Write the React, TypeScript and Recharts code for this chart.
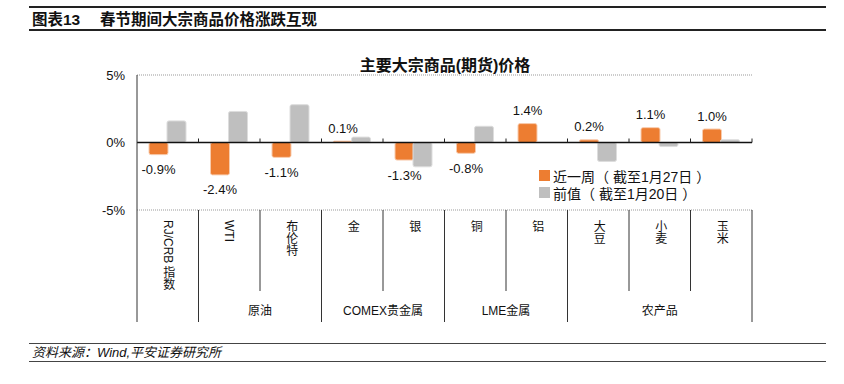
import React from 'react';
import { BarChart, Bar, XAxis, YAxis, CartesianGrid, ReferenceLine, LabelList, Legend } from 'recharts';

const categories = ['RJ/CRB 指数', 'WTI', '布伦特', '金', '银', '铜', '铝', '大豆', '小麦', '玉米'];
const groups = ['', '原油', '原油', 'COMEX贵金属', 'COMEX贵金属', 'LME金属', 'LME金属', '农产品', '农产品', '农产品'];
const lastWeek = [-0.9, -2.4, -1.1, 0.1, -1.3, -0.8, 1.4, 0.2, 1.1, 1.0];
const prevWeek = [1.6, 2.3, 2.8, 0.4, -1.8, 1.2, 0.0, -1.4, -0.3, 0.2];
const yTicks = [-5, 0, 5];
const seriesNames = ['近一周（ 截至1月27日 ）', '前值（ 截至1月20日 ）'];
const seriesColors = ['#ED7D31', '#BFBFBF'];

const data = categories.map((name, i) => ({ name, group: groups[i], a: lastWeek[i], b: prevWeek[i] }));

const W = 844;
const H = 384;
const YW = 60;
const XH = 120;
const M = { top: 75, right: 92, bottom: 54, left: 77 };
const plotLeft = M.left + YW;
const plotRight = W - M.right;
const bw = (plotRight - plotLeft) / categories.length;
const FONT = '"Liberation Sans", Arial, "Noto Sans CJK SC", sans-serif';
const TEXT = '#111';

function CategoryTick(props: any) {
  const { x, y, payload } = props;
  const i = categories.indexOf(payload.value);
  const left = x - bw / 2;
  const right = x + bw / 2;
  const isStart = i === 0 || groups[i] !== groups[i - 1];
  const fullBottom = y + 112;
  const shortBottom = y + 81;
  let span = 0;
  if (isStart && groups[i]) {
    let j = i;
    while (j < groups.length && groups[j] === groups[i]) j++;
    span = j - i;
  }
  return (
    <g>
      <line x1={left} x2={left} y1={y} y2={isStart ? fullBottom : shortBottom} stroke="#333" strokeWidth={1} />
      {i === categories.length - 1 && (
        <line x1={right} x2={right} y1={y} y2={fullBottom} stroke="#333" strokeWidth={1} />
      )}
      <text
        x={x}
        y={y + 10}
        style={{ writingMode: 'vertical-rl' as any }}
        fontSize={12}
        fill={TEXT}
        fontFamily={FONT}
      >
        {categories[i]}
      </text>
      {span > 0 && (
        <text
          x={left + (span * bw) / 2}
          y={y + 101}
          textAnchor="middle"
          dominantBaseline="central"
          fontSize={12}
          fill={TEXT}
          fontFamily={FONT}
        >
          {groups[i]}
        </text>
      )}
    </g>
  );
}

function ZeroLine(props: any) {
  const { x1, x2, y1 } = props;
  const n = categories.length;
  const step = (x2 - x1) / n;
  const ticks = [];
  for (let k = 1; k <= n; k++) {
    const tx = x1 + k * step;
    ticks.push(<line key={k} x1={tx} x2={tx} y1={y1 - 4} y2={y1} stroke="#222" strokeWidth={1} />);
  }
  return (
    <g>
      <line x1={x1} x2={x2} y1={y1} y2={y1} stroke="#111" strokeWidth={1.3} />
      {ticks}
    </g>
  );
}

function ValueLabel(props: any) {
  const { x, y, width, height, value } = props;
  const top = Math.min(y, y + height);
  const bottom = Math.max(y, y + height);
  const cx = x + width / 2;
  const ty = value >= 0 ? top - 13 : bottom + 15;
  return (
    <text x={cx} y={ty} textAnchor="middle" dominantBaseline="central" fontSize={13} fill={TEXT} fontFamily={FONT}>
      {Number(value).toFixed(1)}%
    </text>
  );
}

function LegendContent() {
  return (
    <div style={{ fontFamily: FONT, fontSize: 14, color: TEXT }}>
      {seriesNames.map((name, idx) => (
        <div key={idx} style={{ display: 'flex', alignItems: 'center', height: 17, whiteSpace: 'nowrap' }}>
          <span style={{ display: 'inline-block', width: 11, height: 11, background: seriesColors[idx], marginRight: 3 }} />
          <span>{name}</span>
        </div>
      ))}
    </div>
  );
}

export default function App() {
  return (
    <div style={{ position: 'fixed', left: 0, top: 0, width: W, height: H, background: '#fff', fontFamily: FONT, color: TEXT }}>
      <div style={{ position: 'absolute', left: 29, top: 6, width: 797, borderTop: '2px solid #222' }} />
      <div style={{ position: 'absolute', left: 29, top: 29, width: 797, borderTop: '2px solid #222' }} />
      <div style={{ position: 'absolute', left: 32, top: 11, fontSize: 15.5, fontWeight: 'bold', lineHeight: '18px', whiteSpace: 'nowrap' }}>图表13</div>
      <div style={{ position: 'absolute', left: 100, top: 11, fontSize: 15.5, fontWeight: 'bold', lineHeight: '18px', whiteSpace: 'nowrap' }}>春节期间大宗商品价格涨跌互现</div>

      <div style={{ position: 'absolute', left: 0, top: 0 }}>
        <BarChart width={W} height={H} data={data} margin={M} barGap={-1}>
          <CartesianGrid vertical={false} stroke="#999" strokeDasharray="1 1" />
          <XAxis
            dataKey="name"
            type="category"
            height={XH}
            interval={0}
            axisLine={false}
            tickLine={false}
            tickSize={0}
            tickMargin={0}
            tick={<CategoryTick />}
          />
          <YAxis
            domain={[-5, 5]}
            ticks={yTicks}
            interval={0}
            width={YW}
            tickFormatter={(v: number) => `${v}%`}
            tickLine={false}
            tickSize={0}
            tickMargin={12}
            axisLine={{ stroke: '#333' }}
            tick={{ fontSize: 13, fill: TEXT, fontFamily: FONT }}
          />
          <ReferenceLine y={0} shape={<ZeroLine />} />
          <Bar dataKey="a" name={seriesNames[0]} fill={seriesColors[0]} stroke="#F8CBAD" strokeWidth={1} barSize={19} radius={2} isAnimationActive={false}>
            <LabelList dataKey="a" content={<ValueLabel />} />
          </Bar>
          <Bar dataKey="b" name={seriesNames[1]} fill={seriesColors[1]} stroke="#DDDDDD" strokeWidth={1} barSize={19} radius={2} isAnimationActive={false} />
          <Legend
            layout="vertical"
            align="center"
            verticalAlign="middle"
            wrapperStyle={{ left: 539, top: 167, width: 220 }}
            content={<LegendContent />}
          />
        </BarChart>
      </div>

      <div style={{ position: 'absolute', left: 345, top: 57, width: 200, textAlign: 'center', fontSize: 16, fontWeight: 'bold', lineHeight: '18px', whiteSpace: 'nowrap' }}>主要大宗商品(期货)价格</div>

      <div style={{ position: 'absolute', left: 29, top: 343, width: 797, borderTop: '1.5px solid #444' }} />
      <div style={{ position: 'absolute', left: 32, top: 345, fontSize: 13, fontStyle: 'italic', lineHeight: '16px', whiteSpace: 'nowrap' }}>资料来源：Wind,平安证券研究所</div>
      <div style={{ position: 'absolute', left: 29, top: 361, width: 797, borderTop: '1.5px solid #444' }} />
    </div>
  );
}
